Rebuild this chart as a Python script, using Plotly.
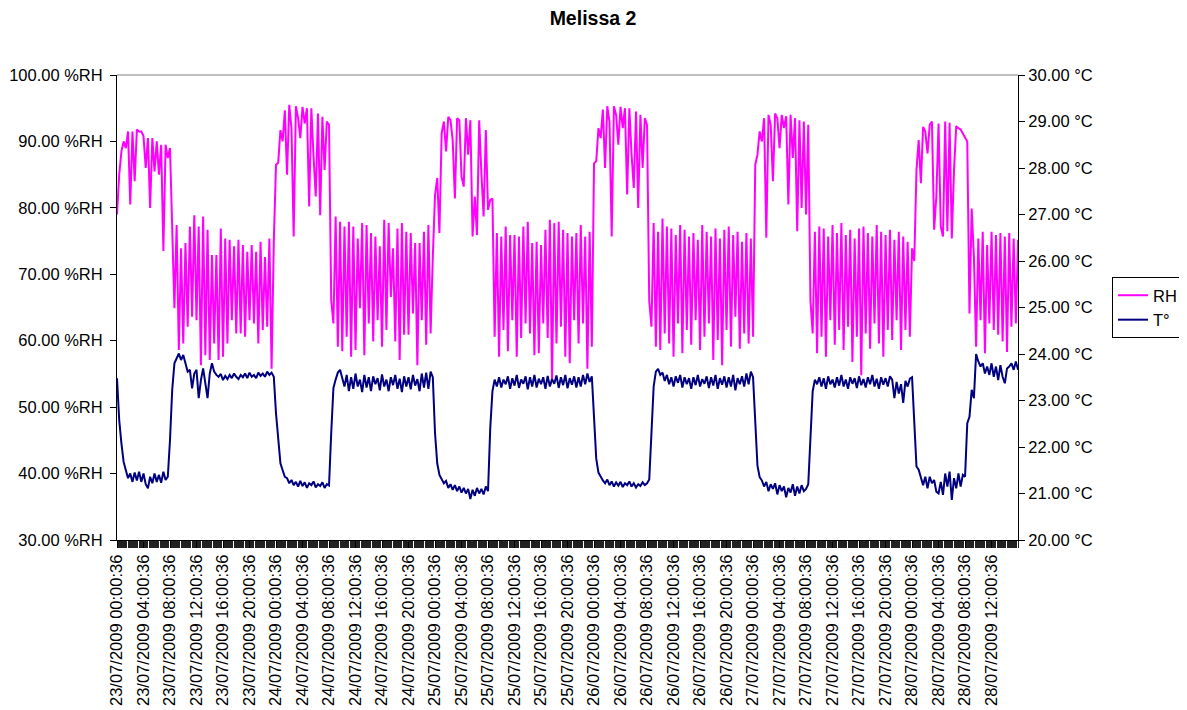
"""Melissa 2: relative humidity and temperature logger chart (dual axis)."""

import pandas as pd
import plotly.graph_objects as go

FONT_STACK = "Liberation Sans, Arial, sans-serif"
RH_COLOR = "#FF00FF"
T_COLOR = "#000080"

# The page body keeps its default 8px margin, so the figure is sized to the
# window minus that offset and the margins are measured from it.
PAGE_OFFSET = 8
FIG_W = 1187 - PAGE_OFFSET
FIG_H = 710 - PAGE_OFFSET
PLOT_LEFT, PLOT_RIGHT, PLOT_TOP, PLOT_BOTTOM = 117, 1018, 75, 540

# Logger samples: every 20 minutes from 23/07/2009 00:00:36
START = "2009-07-23 00:00:36"
STEP = "20min"
RANGE_END = "2009-07-28 16:00:00"
# Labelled categories: every 4 hours up to the last full label
LAST_LABEL = "2009-07-28 12:00:36"
LABEL_STEP = "4h"

# Relative humidity (%RH), one list per phase of the day
RH_HIGH_1 = [79, 85, 88.5, 90, 89, 91.5, 80.5, 91.5, 84, 91.8, 91.5, 91.5, 90.8,
             86, 90.5, 80, 90.5, 85.5, 90, 85, 89.5, 73.5, 89.5, 87.5, 89, 75]
RH_LOW_1 = [64.9, 77.4, 58.6, 73.9, 59.6, 74.7, 62.1, 77.2, 63.6, 78.9, 63.1, 77.2,
            56.3, 78.7, 57.8, 76.7, 57.1, 72.9, 59.6, 72.9, 57.1, 76.9, 57.6, 75.4,
            59.6, 75.2, 63.1, 74.2, 61.1, 75.2, 61.1, 74.4, 60.6, 73.4, 63.1, 74.4,
            62.6, 73.4, 59.6, 74.9, 61.6, 72.6, 62.1, 75.4, 55.8, 74.9]
RH_HIGH_2 = [86.5, 86.8, 91.7, 90, 94.7, 85, 95.5, 92, 75.7, 95.3, 93.5, 90.5, 95.2,
             92.7, 95, 80.2, 95, 87.7, 81.7, 94.2, 78.9, 93.7, 85.7, 93, 92.5, 66.1]
RH_LOW_2 = [62.6, 78.7, 59.1, 77.9, 58.4, 77.2, 60.6, 77.9, 57.6, 77.2, 58.6, 75.4,
            64.9, 77.7, 57.8, 77.4, 62.6, 76.2, 59.9, 75.7, 63.1, 74.2, 59.1, 78.2,
            61.6, 77.7, 66.6, 73.9, 59.9, 76.9, 57.1, 77.7, 60.9, 76.4, 60.9, 76.2,
            64.1, 74.7, 56.3, 74.7, 63.1, 76.4, 59.4, 77.4, 61.1, 72.6]
RH_HIGH_3 = [81.9, 84.5, 76.2, 91.2, 93, 88.5, 93.7, 93.2, 90.2, 81.4, 93.5, 93.2,
             84.7, 83.2, 93.5, 88, 93.2, 75.7, 81.7, 75.9, 93.2, 85.2, 78.7, 91.7,
             79.7, 81.2, 81.4]
RH_LOW_3 = [60.6, 76.2, 57.6, 75.7, 61.6, 77.2, 58.4, 75.9, 63.1, 75.9, 57.6, 75.7,
            60.4, 77.2, 62.6, 77.9, 61.1, 74.7, 57.8, 74.9, 58.1, 74.4, 62.6, 76.7,
            60.4, 78.2, 54.1, 77.7, 59.6, 77.9, 62.1, 76.7, 57.6, 76.2, 56.6, 75.7,
            63.1, 76.2, 59.6, 77.4, 62.6, 75.7, 55.8, 76.4, 59.1]
RH_HIGH_4 = [86.7, 87, 92, 90.5, 94.8, 86, 95.3, 93, 75.7, 95.3, 94, 89.5, 95.2,
             92, 95, 82, 95, 88, 83, 94.5, 80, 94, 86, 93.5, 92.5, 66]
RH_LOW_4 = [62.1, 77.7, 59.1, 76.4, 58.6, 78.4, 61.1, 77.2, 59.6, 76.9, 57.6, 75.9,
            62.6, 77.4, 58.1, 76.7, 61.6, 75.7, 59.4, 76.2, 63.1, 75.2, 58.6, 77.4,
            60.6, 76.4, 62.6, 75.7, 57.1, 76.9, 60.1, 75.4, 56.3, 76.7, 61.6, 77.2,
            59.1, 75.9, 63.6, 76.4, 58.8, 74.9, 61.1, 76.2, 59.6, 75.4, 60.6]
RH_HIGH_5 = [86.5, 88, 91.5, 90, 93.5, 75.5, 94, 92.5, 84, 94.2, 93.5, 89, 94, 92,
             93.8, 80.5, 94, 87.5, 93.5, 76.5, 93.2, 80, 93, 79, 92.5, 66]
RH_LOW_5 = [61.1, 76.4, 58.1, 77.2, 60.6, 76.9, 57.6, 75.7, 63.1, 77.4, 59.4, 76.2,
            61.6, 77.7, 58.6, 75.9, 62.1, 76.7, 56.8, 75.4, 60.6, 76.9, 54.8, 77.2,
            61.1, 76.2, 58.8, 75.7, 62.6, 77.4, 59.6, 76.4, 57.6, 75.9, 61.6, 76.7,
            60.1, 75.2, 63.1, 76.4, 58.6, 75.7, 61.6, 74.9, 60.6, 73.9]
RH_HIGH_6 = [72, 85.7, 90.2, 83.7, 92.2, 91.5, 88.2, 92.5, 93, 76.7, 81.7, 92.7,
             77.2, 75.7, 93, 76.5, 92.8, 75.4, 85.7, 92.3, 92, 91.8, 91.2, 90.5, 90,
             64.1]
RH_LOW_6 = [79.9, 72.7, 59.1, 75.4, 63.1, 76.4, 58.1, 74.4, 62.6, 76.4, 61.6, 75.9,
            60.9, 76.2, 59.9, 75.7, 58.3, 76.2, 62.1, 75.4, 62.6, 75.2]

# Temperature (°C), same sampling
T_COOL_1 = [23.48, 22.58, 22.08, 21.68, 21.5, 21.33, 21.43, 21.25, 21.45, 21.28,
            21.47, 21.25, 21.43, 21.2, 21.11, 21.36, 21.22, 21.43, 21.25, 21.4,
            21.23, 21.47, 21.29, 21.36]
T_WARM_1 = [22.15, 23.23, 23.8, 23.9, 24.01, 23.87, 23.98, 23.8, 23.62, 23.66,
            23.26, 23.58, 23.66, 23.05, 23.44, 23.69, 23.33, 23.05, 23.58, 23.8,
            23.62, 23.55, 23.51, 23.57, 23.44, 23.53, 23.46, 23.55, 23.48, 23.58,
            23.51, 23.46, 23.55, 23.5, 23.58, 23.48, 23.6, 23.51, 23.55, 23.48,
            23.6, 23.53, 23.58, 23.51, 23.62, 23.55, 23.6, 23.51]
T_COOL_2 = [22.72, 22.15, 21.65, 21.5, 21.36, 21.33, 21.22, 21.29, 21.18, 21.25,
            21.15, 21.27, 21.16, 21.24, 21.12, 21.22, 21.18, 21.26, 21.13, 21.2,
            21.16, 21.24, 21.12, 21.2, 21.17, 22.3]
T_WARM_2 = [23.27, 23.45, 23.6, 23.66, 23.5, 23.3, 23.55, 23.2, 23.5, 23.25,
            23.58, 23.3, 23.45, 23.18, 23.55, 23.28, 23.5, 23.2, 23.52, 23.35,
            23.48, 23.22, 23.56, 23.3, 23.45, 23.2, 23.5, 23.33, 23.55, 23.25,
            23.47, 23.18, 23.52, 23.3, 23.5, 23.24, 23.55, 23.32, 23.46, 23.2,
            23.58, 23.28, 23.6, 23.25, 23.62, 23.5]
T_COOL_3 = [22.3, 21.65, 21.4, 21.3, 21.22, 21.27, 21.12, 21.2, 21.08, 21.18,
            21.05, 21.15, 21.02, 21.12, 21.0, 21.1, 20.88, 21.08, 20.95, 21.12,
            21.0, 21.1, 20.98, 21.15, 21.05, 22.4, 23.2]
T_WARM_3 = [23.45, 23.3, 23.5, 23.28, 23.45, 23.35, 23.52, 23.25, 23.48, 23.32,
            23.55, 23.27, 23.45, 23.36, 23.52, 23.24, 23.5, 23.3, 23.55, 23.28,
            23.47, 23.35, 23.5, 23.25, 23.53, 23.3, 23.46, 23.36, 23.54, 23.27,
            23.5, 23.33, 23.55, 23.26, 23.48, 23.34, 23.52, 23.28, 23.5, 23.3,
            23.55, 23.35, 23.58, 23.4, 23.52]
T_COOL_4 = [22.6, 21.75, 21.45, 21.35, 21.28, 21.22, 21.3, 21.18, 21.26, 21.15,
            21.24, 21.17, 21.25, 21.14, 21.22, 21.18, 21.26, 21.15, 21.22, 21.13,
            21.2, 21.16, 21.24, 21.18, 21.22, 21.3]
T_WARM_4 = [22.5, 23.3, 23.62, 23.68, 23.55, 23.6, 23.42, 23.55, 23.35, 23.5,
            23.3, 23.52, 23.38, 23.55, 23.28, 23.5, 23.35, 23.48, 23.25, 23.5,
            23.33, 23.55, 23.3, 23.46, 23.36, 23.52, 23.27, 23.5, 23.32, 23.55,
            23.25, 23.48, 23.34, 23.52, 23.28, 23.5, 23.3, 23.55, 23.22, 23.48,
            23.35, 23.52, 23.3, 23.58, 23.35, 23.62, 23.5]
T_COOL_5 = [22.4, 21.6, 21.35, 21.28, 21.15, 21.25, 21.05, 21.2, 21.1, 21.22,
            20.98, 21.18, 21.05, 21.15, 20.92, 21.12, 21.02, 21.2, 20.95, 21.15,
            21.0, 21.18, 21.05, 21.1, 21.2, 22.2]
T_WARM_5 = [23.2, 23.45, 23.35, 23.5, 23.3, 23.48, 23.25, 23.52, 23.35, 23.45,
            23.28, 23.5, 23.32, 23.55, 23.3, 23.45, 23.25, 23.5, 23.36, 23.48,
            23.27, 23.52, 23.33, 23.46, 23.28, 23.5, 23.35, 23.55, 23.3, 23.47,
            23.25, 23.5, 23.34, 23.48, 23.3, 23.52, 23.45, 23.05, 23.4, 23.15,
            23.35, 22.95, 23.42, 23.3, 23.47, 23.5]
T_COOL_6 = [22.5, 21.58, 21.51, 21.33, 21.18, 21.36, 21.11, 21.36, 21.22, 21.29,
            21.04, 21.0, 21.25, 20.97, 21.43, 21.15, 21.47, 20.86, 21.33, 21.11,
            21.43, 21.15, 21.4, 21.36]
T_WARM_6 = [22.51, 22.65, 23.23, 23.05, 24.0, 23.84, 23.73, 23.8, 23.58, 23.73,
            23.55, 23.8, 23.51, 23.73, 23.44, 23.76, 23.51, 23.37, 23.69, 23.73,
            23.8, 23.66, 23.84, 23.66]

RH_VALUES = (RH_HIGH_1 + RH_LOW_1 + RH_HIGH_2 + RH_LOW_2 + RH_HIGH_3 + RH_LOW_3
             + RH_HIGH_4 + RH_LOW_4 + RH_HIGH_5 + RH_LOW_5 + RH_HIGH_6 + RH_LOW_6)
T_VALUES = (T_COOL_1 + T_WARM_1 + T_COOL_2 + T_WARM_2 + T_COOL_3 + T_WARM_3
            + T_COOL_4 + T_WARM_4 + T_COOL_5 + T_WARM_5 + T_COOL_6 + T_WARM_6)

TIMES = pd.date_range(START, periods=len(RH_VALUES), freq=STEP)
TICK_TIMES = pd.date_range(START, LAST_LABEL, freq=LABEL_STEP)


def build_figure() -> go.Figure:
    """Build the dual-axis RH / temperature line chart."""
    fig = go.Figure()

    fig.add_trace(
        go.Scatter(
            x=TIMES,
            y=RH_VALUES,
            mode="lines",
            name="RH",
            line={"color": RH_COLOR, "width": 2},
            yaxis="y",
        )
    )
    fig.add_trace(
        go.Scatter(
            x=TIMES[: len(T_VALUES)],
            y=T_VALUES,
            mode="lines",
            name="T°",
            line={"color": T_COLOR, "width": 2},
            yaxis="y2",
        )
    )

    tick_font = {"family": FONT_STACK, "size": 16.5, "color": "black"}

    margin_l = PLOT_LEFT - PAGE_OFFSET
    margin_t = PLOT_TOP - PAGE_OFFSET
    margin_r = FIG_W - (PLOT_RIGHT - PAGE_OFFSET)
    margin_b = FIG_H - (PLOT_BOTTOM - PAGE_OFFSET)
    plot_w = PLOT_RIGHT - PLOT_LEFT

    fig.update_layout(
        width=FIG_W,
        height=FIG_H,
        title={
            "text": "<b>Melissa 2</b>",
            "font": {"family": FONT_STACK, "size": 19.5, "color": "black"},
            "x": (593 - PAGE_OFFSET) / FIG_W,
            "xanchor": "center",
            # kept a few px lower than the original so the text box stays
            # inside the figure
            "y": 1 - (18 - PAGE_OFFSET) / FIG_H,
            "yanchor": "middle",
        },
        font=tick_font,
        paper_bgcolor="white",
        plot_bgcolor="white",
        margin={"l": margin_l, "r": margin_r, "t": margin_t, "b": margin_b,
                "autoexpand": False},
        xaxis={
            "type": "date",
            "automargin": False,
            "range": [START, RANGE_END],
            "tickmode": "array",
            "tickvals": TICK_TIMES,
            "tickformat": "%d/%m/%Y %H:%M:%S",
            "tickangle": -90,
            "tickfont": tick_font,
            "ticks": "outside",
            "ticklen": 7,
            "tickcolor": "black",
            "minor": {
                "tickmode": "linear",
                "dtick": 10 * 60 * 1000,
                "tick0": START,
                "ticks": "outside",
                "ticklen": 7,
                "tickcolor": "#222222",
                "showgrid": False,
            },
            "showline": True,
            "linecolor": "black",
            "linewidth": 1,
            "showgrid": False,
            "zeroline": False,
        },
        yaxis={
            "automargin": False,
            "range": [30, 100],
            "dtick": 10,
            "tickformat": ".2f",
            "ticksuffix": " %RH",
            "tickfont": tick_font,
            "ticks": "outside",
            "ticklen": 6,
            "tickcolor": "black",
            "ticklabelstandoff": 4,
            "showline": True,
            "linecolor": "black",
            "linewidth": 1,
            "showgrid": False,
            "zeroline": False,
        },
        yaxis2={
            "automargin": False,
            "range": [20, 30],
            "dtick": 1,
            "tickformat": ".2f",
            "ticksuffix": " °C",
            "tickfont": tick_font,
            "ticks": "outside",
            "ticklen": 6,
            "tickcolor": "black",
            "showline": True,
            "linecolor": "black",
            "linewidth": 1,
            "showgrid": False,
            "zeroline": False,
            "overlaying": "y",
            "side": "right",
        },
        showlegend=True,
        legend={
            "x": (1112 - PLOT_LEFT) / plot_w,
            "xanchor": "left",
            "y": 0.5,
            "yanchor": "middle",
            "bordercolor": "black",
            "borderwidth": 1,
            "bgcolor": "white",
            "font": tick_font,
            "tracegroupgap": 0,
        },
        shapes=[
            {
                "type": "line",
                "xref": "paper",
                "yref": "paper",
                "x0": 0,
                "x1": 1,
                "y0": 1,
                "y1": 1,
                "line": {"color": "#808080", "width": 1},
            }
        ],
    )
    return fig


fig = build_figure()
fig.write_html("out.html")
